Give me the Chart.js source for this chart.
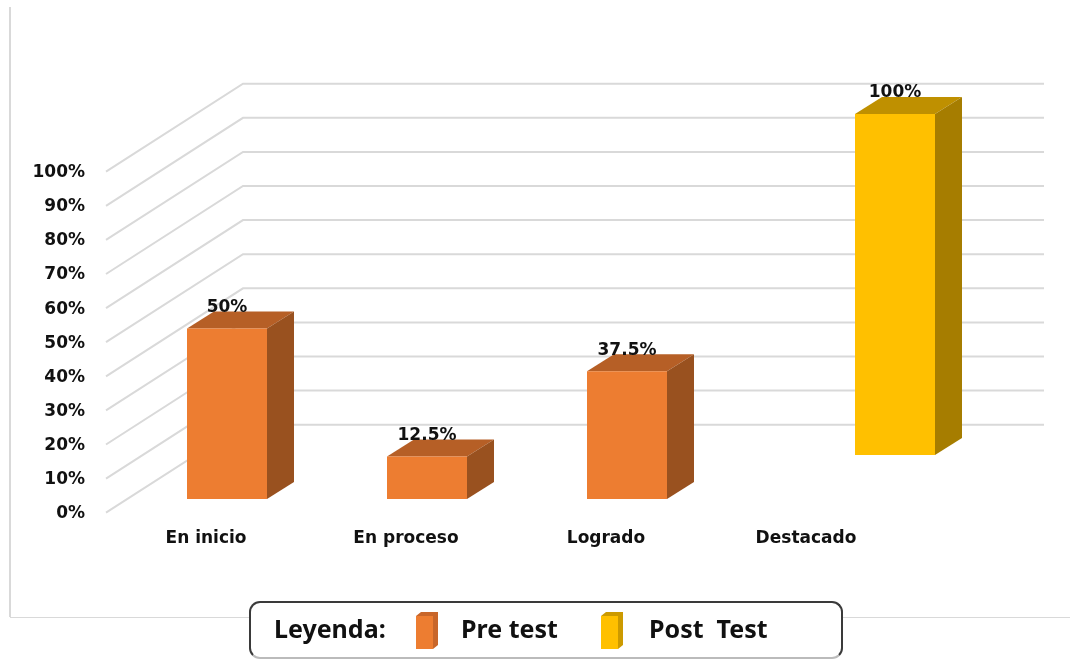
<!DOCTYPE html>
<html lang="es">
<head>
<meta charset="utf-8">
<title>Pre test / Post test</title>
<script src="https://cdn.jsdelivr.net/npm/chart.js@4/dist/chart.umd.min.js"></script>
<style>
  html, body { margin: 0; background: #fff; overflow: hidden; }
  #wrap { position: relative; width: 1070px; height: 660px; overflow: hidden; }
  #legend {
    position: absolute; left: 249px; top: 601px; width: 590px; height: 54px;
    border: 2px solid #3a3a3a; border-bottom-color: #bbb; border-radius: 11px; background: #fff;
    font: bold 25px "Noto Sans", sans-serif; color: #111; white-space: pre;
  }
  #legend span { position: absolute; top: 10px; line-height: 30px; }
  #legend i {
    position: absolute; top: 9px; width: 22px; height: 37px; background: #C8662A;
    clip-path: polygon(5px 0, 22px 0, 22px 33px, 17px 37px, 0 37px, 0 4px);
  }
  #legend i::after { content: ""; position: absolute; left: 0; top: 4px; width: 17px; height: 33px; background: #ED7D31; }
  #legend i.post { background: #CC9A00; }
  #legend i.post::after { background: #FFC000; }
</style>
</head>
<body>
<div id="wrap">
  <canvas id="chart" width="1070" height="660"></canvas>
  <div id="legend">
    <span style="left:23px">Leyenda:</span>
    <i style="left:165px"></i>
    <span style="left:210px">Pre test</span>
    <i class="post" style="left:350px"></i>
    <span style="left:398px">Post  Test</span>
  </div>
</div>
<script>
const categories = ['En inicio', 'En proceso', 'Logrado', 'Destacado'];
const preTest = [50, 12.5, 37.5, null];
const postTest = [null, null, null, 100];
const tickLabels = ['0%', '10%', '20%', '30%', '40%', '50%', '60%', '70%', '80%', '90%', '100%'];

const labelFont = 'bold 17px "DejaVu Sans"';
const wallDx = 137, wallDy = -88;     // how far the back wall sits behind the axis
const barDepthX = 27, barDepthY = -17;

// each series sits on its own row of the 3D floor
const rows = [
  { dx: 21, dy: -13.7, top: '#B65F26', side: '#99511F' },
  { dx: 89, dy: -57.7, top: '#BF9000', side: '#A67D00' }
];

function poly(ctx, color, pts) {
  ctx.fillStyle = color;
  ctx.beginPath();
  pts.forEach((p, i) => i ? ctx.lineTo(p[0], p[1]) : ctx.moveTo(p[0], p[1]));
  ctx.closePath();
  ctx.fill();
}

const threeD = {
  id: 'threeD',
  beforeDatasetsDraw(chart) {
    const { ctx, chartArea, scales } = chart;
    ctx.save();
    // outer frame
    ctx.strokeStyle = '#d9d9d9';
    ctx.lineWidth = 2;
    ctx.beginPath();
    ctx.moveTo(10, 7);
    ctx.lineTo(10, 617);
    ctx.stroke();
    ctx.lineWidth = 1;
    ctx.beginPath();
    ctx.moveTo(10, 617.5);
    ctx.lineTo(1070, 617.5);
    ctx.stroke();
    // gridlines run along the side wall, then along the back wall
    ctx.lineWidth = 2;
    scales.y.ticks.forEach(t => {
      const y = scales.y.getPixelForValue(t.value);
      ctx.beginPath();
      ctx.moveTo(chartArea.left, y);
      ctx.lineTo(chartArea.left + wallDx, y + wallDy);
      ctx.lineTo(chartArea.right + wallDx + 1, y + wallDy);
      ctx.stroke();
    });
    ctx.restore();
  },
  beforeDatasetDraw(chart, args) {
    const { ctx } = chart;
    const row = rows[args.index];
    const values = chart.data.datasets[args.index].data;
    ctx.save();
    ctx.translate(row.dx, row.dy);
    args.meta.data.forEach((el, i) => {
      if (values[i] === null) return;
      const l = el.x - el.width / 2, r = el.x + el.width / 2;
      poly(ctx, row.top, [[l, el.y], [r, el.y], [r + barDepthX, el.y + barDepthY], [l + barDepthX, el.y + barDepthY]]);
      poly(ctx, row.side, [[r, el.y], [r + barDepthX, el.y + barDepthY], [r + barDepthX, el.base + barDepthY], [r, el.base]]);
    });
  },
  afterDatasetDraw(chart, args) {
    const { ctx } = chart;
    const values = chart.data.datasets[args.index].data;
    ctx.font = labelFont;
    ctx.fillStyle = '#111';
    ctx.textAlign = 'center';
    ctx.textBaseline = 'middle';
    args.meta.data.forEach((el, i) => {
      if (values[i] === null) return;
      ctx.fillText(values[i] + '%', el.x, el.y - 21);
    });
    ctx.restore();
  }
};

new Chart(document.getElementById('chart'), {
  type: 'bar',
  data: {
    labels: categories,
    datasets: [
      { label: 'Pre test', data: preTest, backgroundColor: '#ED7D31', clip: false },
      { label: 'Post  Test', data: postTest, backgroundColor: '#FFC000', clip: false }
    ]
  },
  options: {
    responsive: false,
    animation: false,
    barPercentage: 0.4,
    categoryPercentage: 1,
    layout: { padding: { left: 0, top: 171.7, right: 164, bottom: 100 } },
    plugins: { legend: { display: false }, tooltip: { enabled: false } },
    scales: {
      x: {
        stacked: true,
        grid: { display: false },
        border: { display: false },
        afterFit: s => { s.height = 47.3; },
        ticks: { padding: 8, color: '#111', maxRotation: 0, font: { family: 'DejaVu Sans', size: 17, weight: 'bold' } }
      },
      y: {
        min: 0,
        max: 100,
        grid: { display: false },
        border: { display: false },
        afterFit: s => { s.width = 106; },
        ticks: {
          stepSize: 10,
          padding: 13,
          labelOffset: 1,
          color: '#111',
          callback: (v, i) => tickLabels[i],
          font: { family: 'DejaVu Sans', size: 17, weight: 'bold' }
        }
      }
    }
  },
  plugins: [threeD]
});
</script>
</body>
</html>
